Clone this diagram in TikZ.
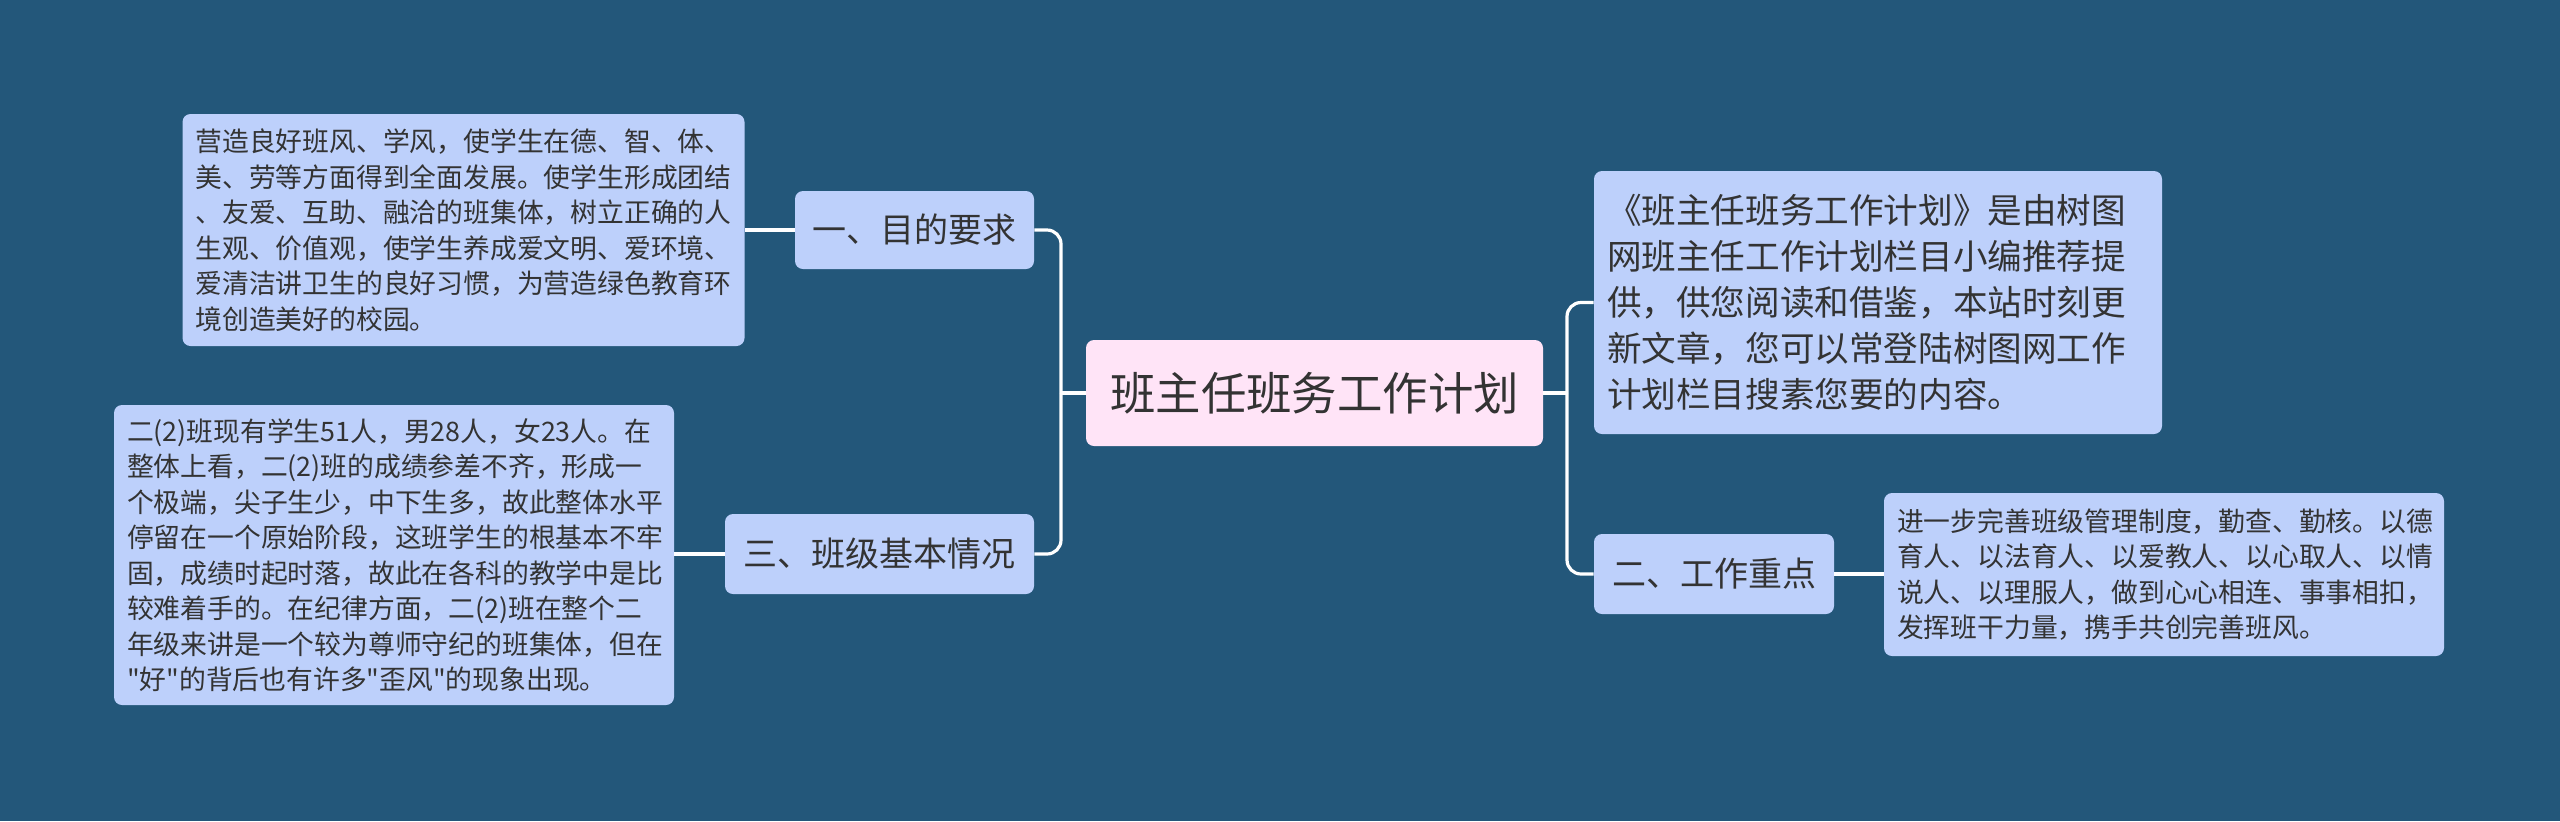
\documentclass[tikz,border=0pt]{standalone}
\usepackage{fontspec}
\newfontfamily\cjk{Noto Sans CJK SC}
\definecolor{bg}{HTML}{23577A}
\definecolor{nodeblue}{HTML}{BDD0FB}
\definecolor{nodepink}{HTML}{FFE4F7}
\definecolor{txt}{HTML}{333333}
\tikzset{
  box/.style={fill=nodeblue, rounded corners=4pt, text=txt, anchor=center},
  leaf/.style={box, font=\cjk\fontsize{13.4}{17.75}\selectfont, align=left, inner xsep=6.5pt, inner ysep=0pt},
  branch/.style={box, font=\cjk\fontsize{17}{20}\selectfont, inner sep=0pt, align=center},
  rootbox/.style={box, fill=nodepink, font=\cjk\fontsize{22.7}{26}\selectfont, inner sep=0pt, align=center},
  conn/.style={draw=white, line width=1.6pt},
}
\begin{document}
\begin{tikzpicture}[x=0.5pt, y=-0.5pt]
\useasboundingbox (0,0) rectangle (2560,821);
\fill[bg] (0,0) rectangle (2560,821);

\node[rootbox, minimum width=228.5pt, minimum height=53pt] (c) at (1314.5,393) {班主任班务工作计划};

\node[branch, minimum width=119.5pt, minimum height=39pt] (b1) at (914.5,230) {一、目的要求};
\node[branch, minimum width=154.5pt, minimum height=40pt] (b3) at (879.5,554) {三、班级基本情况};
\node[branch, minimum width=120pt, minimum height=40pt] (b2) at (1714,574) {二、工作重点};

\node[leaf, text width=268pt, minimum height=116pt] (l1) at (463.5,230) {营造良好班风、学风，使学生在德、智、体、\\美、劳等方面得到全面发展。使学生形成团结\\、友爱、互助、融洽的班集体，树立正确的人\\生观、价值观，使学生养成爱文明、爱环境、\\爱清洁讲卫生的良好习惯，为营造绿色教育环\\境创造美好的校园。};

\node[leaf, text width=267pt, minimum height=150pt] (l3) at (394,555) {二(2)班现有学生51人，男28人，女23人。在\\整体上看，二(2)班的成绩参差不齐，形成一\\个极端，尖子生少，中下生多，故此整体水平\\停留在一个原始阶段，这班学生的根基本不牢\\固，成绩时起时落，故此在各科的教学中是比\\较难着手的。在纪律方面，二(2)班在整个二\\年级来讲是一个较为尊师守纪的班集体，但在\\"好"的背后也有许多"歪风"的现象出现。};

\node[leaf, font=\cjk\fontsize{17.3}{23}\selectfont, text width=271pt, minimum height=131.5pt] (intro) at (1878,302.5) {《班主任班务工作计划》是由树图\\网班主任工作计划栏目小编推荐提\\供，供您阅读和借鉴，本站时刻更\\新文章，您可以常登陆树图网工作\\计划栏目搜素您要的内容。};

\node[leaf, text width=267pt, minimum height=81.5pt] (l2) at (2164,574.5) {进一步完善班级管理制度，勤查、勤核。以德\\育人、以法育人、以爱教人、以心取人、以情\\说人、以理服人，做到心心相连、事事相扣，\\发挥班干力量，携手共创完善班风。};

\coordinate (tL) at (1061,393);
\coordinate (tR) at (1567,393);

\draw[conn] (c.west) -- (tL);
\draw[conn, rounded corners=7pt] (b1.east) -| (tL);
\draw[conn, rounded corners=7pt] (b3.east) -| (tL);
\draw[conn] (c.east) -- (tR);
\draw[conn, rounded corners=7pt] (intro.west) -| (tR);
\draw[conn, rounded corners=7pt] (b2.west) -| (tR);
\draw[conn] (b1.west) -- (b1.west -| l1.east);
\draw[conn] (b3.west) -- (b3.west -| l3.east);
\draw[conn] (b2.east) -- (b2.east -| l2.west);
\end{tikzpicture}
\end{document}
